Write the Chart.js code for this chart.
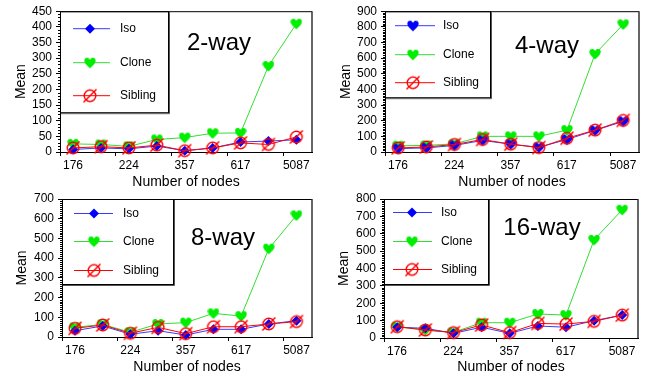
<!DOCTYPE html>
<html>
<head>
<meta charset="utf-8">
<script src="https://cdn.jsdelivr.net/npm/chart.js@4.4.1/dist/chart.umd.min.js"></script>
<style>
  html, body { margin: 0; padding: 0; background: #fff; }
  #wrap { position: relative; width: 645px; height: 376px; }
  #wrap canvas { position: absolute; left: 0; top: 0; }
</style>
</head>
<body>
<div id="wrap">
  <canvas id="c1" width="645" height="376"></canvas>
  <canvas id="c2" width="645" height="376"></canvas>
  <canvas id="c3" width="645" height="376"></canvas>
  <canvas id="c4" width="645" height="376"></canvas>
</div>
<script>
// data points (index along x) and the labels shown under every other one
const pointIndex = [0, 1, 2, 3, 4, 5, 6, 7, 8];
const tickLabels = ['176', '224', '357', '617', '5087'];
const seriesNames = ['Iso', 'Clone', 'Sibling'];

// 2-way
const iso2 = [8, 13, 10, 19, 4, 13, 32, 35, 39];
const clone2 = [26, 24, 18, 40, 46, 60, 61, 275, 410];
const sib2 = [13, 17, 13, 22, 4, 13, 29, 24, 48];
// 4-way
const iso4 = [22, 26, 42, 74, 50, 30, 80, 138, 196];
const clone4 = [40, 42, 52, 100, 100, 100, 140, 627, 816];
const sib4 = [26, 32, 48, 80, 50, 28, 88, 140, 202];
// 8-way
const iso8 = [32, 56, 14, 32, 10, 39, 39, 66, 83];
const clone8 = [49, 64, 24, 66, 73, 120, 106, 448, 617];
const sib8 = [44, 61, 19, 49, 17, 52, 52, 66, 78];
// 16-way
const iso16 = [62, 56, 27, 62, 27, 69, 62, 100, 132];
const clone16 = [65, 46, 33, 88, 88, 138, 132, 565, 738];
const sib16 = [65, 46, 31, 75, 31, 84, 80, 96, 132];

const FONT = "Arial, 'Liberation Sans', sans-serif";
const BLUE = '#0000ff';
const BLUE_LINE = '#3a3aff';
const GREEN = '#00ee00';
const GREEN_LINE = '#33dd33';
const RED = '#ff0000';

// marker images
function heartCanvas(color) {
  const c = document.createElement('canvas');
  c.width = 12; c.height = 12;
  const g = c.getContext('2d');
  g.fillStyle = color;
  g.beginPath();
  g.moveTo(6, 11.5);
  g.bezierCurveTo(2, 7.8, 0, 5.8, 0.4, 3.2);
  g.bezierCurveTo(0.9, 0.4, 4.6, 0, 6, 3);
  g.bezierCurveTo(7.4, 0, 11.1, 0.4, 11.6, 3.2);
  g.bezierCurveTo(12, 5.8, 10, 7.8, 6, 11.5);
  g.fill();
  return c;
}
function slashCanvas(color) {
  const c = document.createElement('canvas');
  c.width = 16; c.height = 16;
  const g = c.getContext('2d');
  g.strokeStyle = color;
  g.lineWidth = 1.4;
  g.beginPath();
  g.arc(8, 8, 5.8, 0, Math.PI * 2);
  g.stroke();
  g.beginPath();
  g.moveTo(1.5, 14.5);
  g.lineTo(14.5, 1.5);
  g.stroke();
  return c;
}
const greenHeart = heartCanvas(GREEN);
const blueHeart = heartCanvas(BLUE);
const redSlash = slashCanvas(RED);

// panel layout (page coordinates)
const panels = [
  { id: 'c1', title: '2-way', iso: iso2, clone: clone2, sib: sib2, yMax: 450, yStep: 50, isoHeart: false,
    L: 60, T: 7, R: 312, B: 152, yTitleX: 21, xTitleY: 182, tx: 219, ty: 50,
    leg: { w: 108, h: 101, rows: [17, 51, 84], l0: 13, l1: 50, m: 30, t: 60 } },
  { id: 'c2', title: '4-way', iso: iso4, clone: clone4, sib: sib4, yMax: 900, yStep: 100, isoHeart: true,
    L: 385, T: 9, R: 639, B: 152, yTitleX: 346, xTitleY: 182, tx: 547, ty: 53,
    leg: { w: 105, h: 86, rows: [14, 43, 71], l0: 10, l1: 50, m: 28, t: 58 } },
  { id: 'c3', title: '8-way', iso: iso8, clone: clone8, sib: sib8, yMax: 700, yStep: 100, isoHeart: false,
    L: 62, T: 199, R: 312, B: 337, yTitleX: 22, xTitleY: 367, tx: 223, ty: 245,
    leg: { w: 111, h: 85, rows: [14, 42, 71], l0: 12, l1: 51, m: 32, t: 61 } },
  { id: 'c4', title: '16-way', iso: iso16, clone: clone16, sib: sib16, yMax: 800, yStep: 100, isoHeart: false,
    L: 384, T: 199, R: 638, B: 338, yTitleX: 344, xTitleY: 367, tx: 542, ty: 235,
    leg: { w: 104, h: 85, rows: [13, 42, 70], l0: 9, l1: 48, m: 28, t: 57 } }
];

function drawDiamond(ctx, x, y, r, color) {
  ctx.fillStyle = color;
  ctx.beginPath();
  ctx.moveTo(x, y - r);
  ctx.lineTo(x + r, y);
  ctx.lineTo(x, y + r);
  ctx.lineTo(x - r, y);
  ctx.closePath();
  ctx.fill();
}

// frame, minor ticks, legend box and panel label
function decorPlugin(p) {
  return {
    id: 'decor',
    beforeDatasetsDraw(chart) {
      const ctx = chart.ctx;
      const a = chart.chartArea;
      const lg = p.leg;
      ctx.save();
      // legend box
      ctx.fillStyle = '#fff';
      ctx.fillRect(a.left, a.top, lg.w, lg.h);
      ctx.strokeStyle = '#000';
      ctx.lineWidth = 1;
      ctx.strokeRect(a.left + 0.5, a.top + 0.5, lg.w, lg.h);
      ctx.strokeStyle = '#555';
      ctx.beginPath();
      ctx.moveTo(a.left + lg.w + 1.5, a.top + 1);
      ctx.lineTo(a.left + lg.w + 1.5, a.top + lg.h + 1.5);
      ctx.lineTo(a.left + 1, a.top + lg.h + 1.5);
      ctx.stroke();

      const lineCols = [BLUE_LINE, GREEN_LINE, RED];
      ctx.font = '12px ' + FONT;
      ctx.textBaseline = 'middle';
      ctx.textAlign = 'left';
      seriesNames.forEach((name, i) => {
        const y = a.top + lg.rows[i] + 0.5;
        ctx.strokeStyle = lineCols[i];
        ctx.lineWidth = 1;
        ctx.beginPath();
        ctx.moveTo(a.left + lg.l0, y);
        ctx.lineTo(a.left + lg.l1, y);
        ctx.stroke();
        const mx = a.left + lg.m;
        if (i === 0) {
          if (p.isoHeart) ctx.drawImage(blueHeart, mx - 6, y - 6);
          else drawDiamond(ctx, mx, y, 5, BLUE);
        } else if (i === 1) {
          ctx.drawImage(greenHeart, mx - 6, y - 6);
        } else {
          ctx.drawImage(redSlash, mx - 8, y - 8);
        }
        ctx.fillStyle = '#000';
        ctx.fillText(name, a.left + lg.t, y);
      });

      // panel label
      ctx.font = '24px ' + FONT;
      ctx.textAlign = 'center';
      ctx.textBaseline = 'alphabetic';
      ctx.fillStyle = '#000';
      ctx.fillText(p.title, p.tx, p.ty);
      ctx.restore();
    },
    afterDraw(chart) {
      const ctx = chart.ctx;
      const a = chart.chartArea;
      const ys = chart.scales.y;
      ctx.save();
      // top and right frame
      ctx.strokeStyle = '#000';
      ctx.lineWidth = 1;
      ctx.beginPath();
      ctx.moveTo(a.left, a.top + 0.5);
      ctx.lineTo(a.right, a.top + 0.5);
      ctx.stroke();
      ctx.strokeStyle = '#333';
      ctx.lineWidth = 1.5;
      ctx.beginPath();
      ctx.moveTo(a.right, a.top);
      ctx.lineTo(a.right, a.bottom);
      ctx.stroke();
      // minor ticks on the y axis
      ctx.strokeStyle = '#000';
      ctx.lineWidth = 1;
      ctx.beginPath();
      for (let v = 10; v < p.yMax; v += 10) {
        if (v % p.yStep === 0) continue;
        const py = Math.round(ys.getPixelForValue(v)) + 0.5;
        ctx.moveTo(a.left - 2, py);
        ctx.lineTo(a.left, py);
      }
      ctx.stroke();
      ctx.restore();
    }
  };
}

function buildChart(p) {
  const pts = vals => vals.map((v, i) => ({ x: pointIndex[i], y: v }));
  const half = 14 * 1.2 / 2;
  return new Chart(document.getElementById(p.id), {
    type: 'line',
    data: {
      datasets: [
        { label: seriesNames[0], data: pts(p.iso), borderColor: BLUE_LINE,
          pointStyle: p.isoHeart ? blueHeart : 'rectRot', pointRadius: 5,
          pointBackgroundColor: BLUE, pointBorderColor: BLUE, pointBorderWidth: 0, order: 1 },
        { label: seriesNames[1], data: pts(p.clone), borderColor: GREEN_LINE,
          pointStyle: greenHeart, order: 2 },
        { label: seriesNames[2], data: pts(p.sib), borderColor: RED,
          pointStyle: redSlash, order: 0 }
      ]
    },
    options: {
      responsive: false,
      animation: false,
      devicePixelRatio: 1,
      events: [],
      layout: {
        padding: { left: p.yTitleX - half, top: p.T, right: 645 - p.R, bottom: 376 - (p.xTitleY + half) }
      },
      plugins: { legend: { display: false }, tooltip: { enabled: false } },
      elements: {
        line: { tension: 0, borderWidth: 1 },
        point: { radius: 5, hoverRadius: 5 }
      },
      datasets: { line: { clip: false } },
      scales: {
        x: {
          type: 'linear',
          min: -0.47,
          max: 8.56,
          afterBuildTicks: ax => { ax.ticks = tickLabels.map((t, k) => ({ value: 2 * k - 0.47 })); },
          afterFit: s => { s.height = p.xTitleY + half - p.B; },
          ticks: {
            callback: (v, i) => tickLabels[i],
            labelOffset: 13, autoSkip: false, maxRotation: 0,
            color: '#000', font: { family: FONT, size: 12 }, padding: 2
          },
          grid: { drawOnChartArea: false, drawTicks: true, tickLength: 4, color: '#000' },
          border: { color: '#000', width: 1 },
          title: { display: true, text: 'Number of nodes', color: '#000', font: { family: FONT, size: 14 }, padding: 0 }
        },
        y: {
          min: 0,
          max: p.yMax,
          afterFit: s => { s.width = p.L - (p.yTitleX - half); },
          ticks: { stepSize: p.yStep, autoSkip: false, color: '#000', font: { family: FONT, size: 12 }, padding: 4 },
          grid: { drawOnChartArea: false, drawTicks: true, tickLength: 4, color: '#000' },
          border: { color: '#000', width: 1 },
          title: { display: true, text: 'Mean', color: '#000', font: { family: FONT, size: 14 }, padding: 0 }
        }
      }
    },
    plugins: [decorPlugin(p)]
  });
}

panels.forEach(buildChart);
</script>
</body>
</html>
